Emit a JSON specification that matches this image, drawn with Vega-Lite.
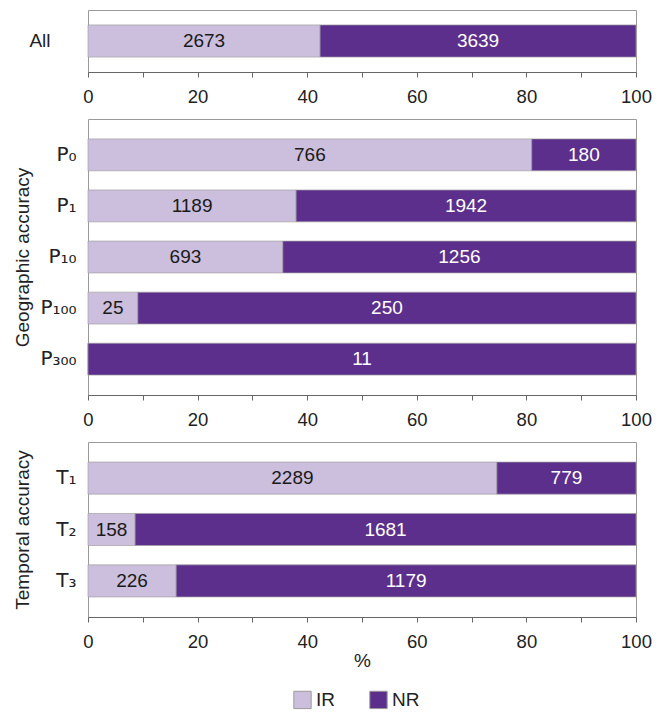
{
  "$schema": "https://vega.github.io/schema/vega-lite/v6.json",
  "padding": {"top": 9, "left": 12, "right": 8, "bottom": 5},
  "background": "white",
  "config": {
    "font": "Liberation Sans",
    "view": {"stroke": "#9a9a9a", "strokeWidth": 1},
    "axis": {"labelFont": "Liberation Sans", "titleFont": "Liberation Sans", "labelColor": "#222", "titleColor": "#222", "titleFontWeight": "normal", "labelFontSize": 18.5, "titleFontSize": 19, "grid": false},
    "legend": {"labelFont": "Liberation Sans", "labelFontSize": 19, "labelColor": "#222"},
    "concat": {"spacing": 12}
  },
  "data": {
    "values": [
      {"panel": "all", "category": "All", "type": "IR", "count": 2673},
      {"panel": "all", "category": "All", "type": "NR", "count": 3639},
      {"panel": "geo", "category": "P₀", "type": "IR", "count": 766},
      {"panel": "geo", "category": "P₀", "type": "NR", "count": 180},
      {"panel": "geo", "category": "P₁", "type": "IR", "count": 1189},
      {"panel": "geo", "category": "P₁", "type": "NR", "count": 1942},
      {"panel": "geo", "category": "P₁₀", "type": "IR", "count": 693},
      {"panel": "geo", "category": "P₁₀", "type": "NR", "count": 1256},
      {"panel": "geo", "category": "P₁₀₀", "type": "IR", "count": 25},
      {"panel": "geo", "category": "P₁₀₀", "type": "NR", "count": 250},
      {"panel": "geo", "category": "P₃₀₀", "type": "IR", "count": 0},
      {"panel": "geo", "category": "P₃₀₀", "type": "NR", "count": 11},
      {"panel": "tmp", "category": "T₁", "type": "IR", "count": 2289},
      {"panel": "tmp", "category": "T₁", "type": "NR", "count": 779},
      {"panel": "tmp", "category": "T₂", "type": "IR", "count": 158},
      {"panel": "tmp", "category": "T₂", "type": "NR", "count": 1681},
      {"panel": "tmp", "category": "T₃", "type": "IR", "count": 226},
      {"panel": "tmp", "category": "T₃", "type": "NR", "count": 1179}
    ]
  },
  "vconcat": [
    {
      "width": 548,
      "height": 62,
      "transform": [{"filter": "datum.panel === 'all'"}],
      "encoding": {
        "y": {"field": "category", "type": "nominal", "title": null,
              "scale": {"paddingInner": 0.376, "paddingOuter": 0.29},
              "axis": {"domain": false, "ticks": false, "labelPadding": 38, "labelFontSize": 19}}
      },
      "layer": [
        {
          "mark": {"type": "bar", "stroke": "#a0a0a0", "strokeWidth": 0.7},
          "encoding": {
            "x": {"field": "count", "type": "quantitative", "aggregate": "sum", "stack": "normalize",
                  "scale": {"domain": [0, 1]}, "title": null,
                  "axis": {"values": [0, 0.1, 0.2, 0.3, 0.4, 0.5, 0.6, 0.7, 0.8, 0.9, 1], "labelExpr": "round(datum.value*100) % 20 === 0 ? format(datum.value*100, 'd') : ''", "domainColor": "#666", "tickColor": "#666", "tickSize": 5, "labelPadding": 10, "labelFlush": false}},
            "color": {"field": "type", "type": "nominal", "scale": {"domain": ["IR", "NR"], "range": ["#cbbfdd", "#5b2f8b"]},
                      "legend": {"title": null, "orient": "none", "legendX": 205, "legendY": 680, "direction": "horizontal", "symbolType": "square", "symbolSize": 300, "symbolStrokeColor": "#999", "symbolStrokeWidth": 1, "symbolOpacity": 1, "columnPadding": 32, "labelOffset": 4}}
          }
        },
        {
          "transform": [{"filter": "datum.count > 0"}],
          "mark": {"type": "text", "fontSize": 19, "font": "Liberation Sans"},
          "encoding": {
            "x": {"field": "count", "type": "quantitative", "aggregate": "sum", "stack": "normalize", "bandPosition": 0.5},
            "detail": {"field": "type"},
            "text": {"field": "count", "aggregate": "sum", "type": "quantitative"},
            "color": {"condition": {"test": "datum.type === 'NR'", "value": "white"}, "value": "#1a1a1a"}
          }
        }
      ]
    },
    {
      "width": 548,
      "height": 276,
      "transform": [{"filter": "datum.panel === 'geo'"}],
      "encoding": {
        "y": {"field": "category", "type": "nominal", "title": "Geographic accuracy",
              "sort": ["P₀", "P₁", "P₁₀", "P₁₀₀", "P₃₀₀"],
              "scale": {"paddingInner": 0.376, "paddingOuter": 0.39},
              "axis": {"domain": false, "ticks": false, "labelPadding": 12, "titleX": -56, "labelFont": "DejaVu Sans", "labelFontSize": 20}}
      },
      "layer": [
        {
          "mark": {"type": "bar", "stroke": "#a0a0a0", "strokeWidth": 0.7},
          "encoding": {
            "x": {"field": "count", "type": "quantitative", "aggregate": "sum", "stack": "normalize",
                  "scale": {"domain": [0, 1]}, "title": null,
                  "axis": {"values": [0, 0.1, 0.2, 0.3, 0.4, 0.5, 0.6, 0.7, 0.8, 0.9, 1], "labelExpr": "round(datum.value*100) % 20 === 0 ? format(datum.value*100, 'd') : ''", "domainColor": "#666", "tickColor": "#666", "tickSize": 5, "labelPadding": 10, "labelFlush": false}},
            "color": {"field": "type", "type": "nominal", "scale": {"domain": ["IR", "NR"], "range": ["#cbbfdd", "#5b2f8b"]},
                      "legend": {"title": null, "orient": "none", "legendX": 205, "legendY": 680, "direction": "horizontal", "symbolType": "square", "symbolSize": 300, "symbolStrokeColor": "#999", "symbolStrokeWidth": 1, "symbolOpacity": 1, "columnPadding": 32, "labelOffset": 4}}
          }
        },
        {
          "transform": [{"filter": "datum.count > 0"}],
          "mark": {"type": "text", "fontSize": 19, "font": "Liberation Sans"},
          "encoding": {
            "x": {"field": "count", "type": "quantitative", "aggregate": "sum", "stack": "normalize", "bandPosition": 0.5},
            "detail": {"field": "type"},
            "text": {"field": "count", "aggregate": "sum", "type": "quantitative"},
            "color": {"condition": {"test": "datum.type === 'NR'", "value": "white"}, "value": "#1a1a1a"}
          }
        }
      ]
    },
    {
      "width": 548,
      "height": 175,
      "transform": [{"filter": "datum.panel === 'tmp'"}],
      "encoding": {
        "y": {"field": "category", "type": "nominal", "title": "Temporal accuracy",
              "sort": ["T₁", "T₂", "T₃"],
              "scale": {"paddingInner": 0.376, "paddingOuter": 0.39},
              "axis": {"domain": false, "ticks": false, "labelPadding": 12, "titleX": -56, "labelFont": "DejaVu Sans", "labelFontSize": 20}}
      },
      "layer": [
        {
          "mark": {"type": "bar", "stroke": "#a0a0a0", "strokeWidth": 0.7},
          "encoding": {
            "x": {"field": "count", "type": "quantitative", "aggregate": "sum", "stack": "normalize",
                  "scale": {"domain": [0, 1]}, "title": "%",
                  "axis": {"values": [0, 0.1, 0.2, 0.3, 0.4, 0.5, 0.6, 0.7, 0.8, 0.9, 1], "labelExpr": "round(datum.value*100) % 20 === 0 ? format(datum.value*100, 'd') : ''", "domainColor": "#666", "tickColor": "#666", "tickSize": 5, "labelPadding": 10, "labelFlush": false, "titlePadding": 1}},
            "color": {"field": "type", "type": "nominal", "scale": {"domain": ["IR", "NR"], "range": ["#cbbfdd", "#5b2f8b"]},
                      "legend": {"title": null, "orient": "none", "legendX": 205, "legendY": 680, "direction": "horizontal", "symbolType": "square", "symbolSize": 300, "symbolStrokeColor": "#999", "symbolStrokeWidth": 1, "symbolOpacity": 1, "columnPadding": 32, "labelOffset": 4}}
          }
        },
        {
          "transform": [{"filter": "datum.count > 0"}],
          "mark": {"type": "text", "fontSize": 19, "font": "Liberation Sans"},
          "encoding": {
            "x": {"field": "count", "type": "quantitative", "aggregate": "sum", "stack": "normalize", "bandPosition": 0.5},
            "detail": {"field": "type"},
            "text": {"field": "count", "aggregate": "sum", "type": "quantitative"},
            "color": {"condition": {"test": "datum.type === 'NR'", "value": "white"}, "value": "#1a1a1a"}
          }
        }
      ]
    }
  ]
}
